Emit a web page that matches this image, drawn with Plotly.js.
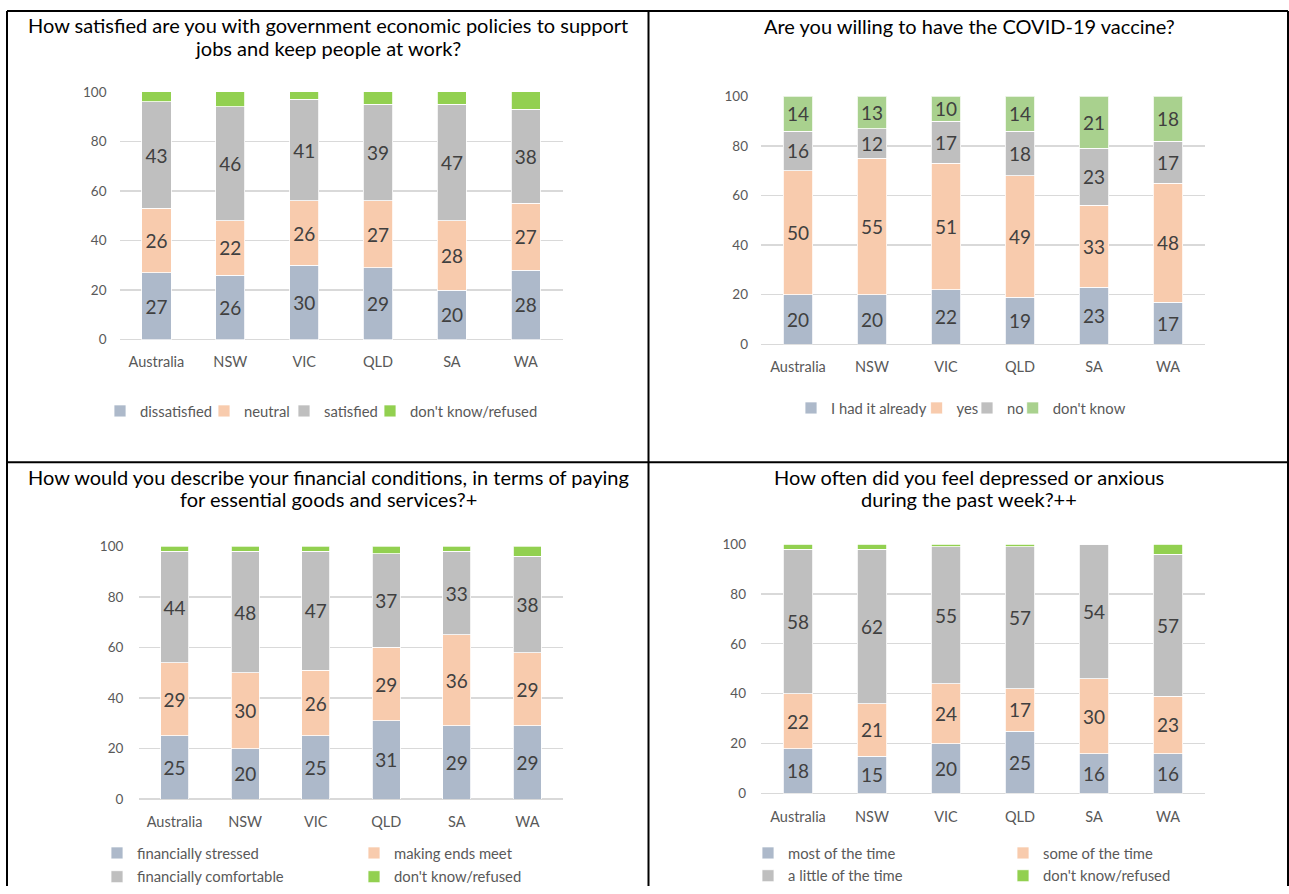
<!DOCTYPE html>
<html>
<head>
<meta charset="utf-8">
<script src="https://cdn.plot.ly/plotly-3.0.1.min.js"></script>
<style>
html,body{margin:0;padding:0;background:#ffffff;}
#chart{width:1289px;height:894px;}
</style>
</head>
<body>
<div id="chart"></div>
<script>
// ---------------- DATA ----------------
const categories = ['Australia', 'NSW', 'VIC', 'QLD', 'SA', 'WA'];

// Panel 1
const p1Title = 'How satisfied are you with government economic policies to support<br>jobs and keep people at work?';
const p1Names = ['dissatisfied', 'neutral', 'satisfied', "don't know/refused"];
const p1Dissatisfied = [27, 26, 30, 29, 20, 28];
const p1Neutral      = [26, 22, 26, 27, 28, 27];
const p1Satisfied    = [43, 46, 41, 39, 47, 38];
const p1DontKnow     = [4, 6, 3, 5, 5, 7];

// Panel 2
const p2Title = 'Are you willing to have the COVID-19 vaccine?';
const p2Names = ['I had it already', 'yes', 'no', "don't know"];
const p2HadIt    = [20, 20, 22, 19, 23, 17];
const p2Yes      = [50, 55, 51, 49, 33, 48];
const p2No       = [16, 12, 17, 18, 23, 17];
const p2DontKnow = [14, 13, 10, 14, 21, 18];

// Panel 3
const p3Title = 'How would you describe your financial conditions, in terms of paying<br>for essential goods and services?+';
const p3Names = ['financially stressed', 'making ends meet', 'financially comfortable', "don't know/refused"];
const p3Stressed    = [25, 20, 25, 31, 29, 29];
const p3EndsMeet    = [29, 30, 26, 29, 36, 29];
const p3Comfortable = [44, 48, 47, 37, 33, 38];
const p3DontKnow    = [2, 2, 2, 3, 2, 4];

// Panel 4
const p4Title = 'How often did you feel depressed or anxious<br>during the past week?++';
const p4Names = ['most of the time', 'some of the time', 'a little of the time', "don't know/refused"];
const p4Most     = [18, 15, 20, 25, 16, 16];
const p4Some     = [22, 21, 24, 17, 30, 23];
const p4Little   = [58, 62, 55, 57, 54, 57];
const p4DontKnow = [2, 2, 1, 1, 0.5, 4];

const yTicks = [0, 20, 40, 60, 80, 100];

// ---------------- STYLE / LAYOUT ----------------
const W = 1289, H = 894;
const FONT = 'Lato, "Open Sans", sans-serif';
const C_BLUE = '#ADB9CA', C_PEACH = '#F8CBAD', C_GREY = '#BFBFBF', C_GREEN = '#92D050', C_LGREEN = '#A9D18E';
const px = v => v / W;
const py = v => 1 - v / H;

const panels = [
  { title: p1Title, names: p1Names, series: [p1Dissatisfied, p1Neutral, p1Satisfied, p1DontKnow],
    colors: [C_BLUE, C_PEACH, C_GREY, C_GREEN], labelled: [true, true, true, false],
    plot: { x0: 119.5, x1: 562.7, top: 92.7, bottom: 342.7 }, ystand: 12, xstand: 12,
    titleX: 328, titleY: [25, 48],
    legendPos: [[140, 415], [244, 415], [324, 415], [410, 415]] },
  { title: p2Title, names: p2Names, series: [p2HadIt, p2Yes, p2No, p2DontKnow],
    colors: [C_BLUE, C_PEACH, C_GREY, C_LGREEN], labelled: [true, true, true, true],
    plot: { x0: 761, x1: 1205, top: 97.3, bottom: 347.3 }, ystand: 12, xstand: 12,
    titleX: 969, titleY: [26.5],
    legendPos: [[831, 412], [956.6, 412], [1007, 412], [1052.7, 412]] },
  { title: p3Title, names: p3Names, series: [p3Stressed, p3EndsMeet, p3Comfortable, p3DontKnow],
    colors: [C_BLUE, C_PEACH, C_GREY, C_GREEN], labelled: [true, true, true, false],
    plot: { x0: 139.3, x1: 562.7, top: 551.3, bottom: 806.3 }, ystand: 15, xstand: 12,
    titleX: 328.5, titleY: [481, 504],
    legendPos: [[137, 861], [394, 861], [137, 885], [394, 885]] },
  { title: p4Title, names: p4Names, series: [p4Most, p4Some, p4Little, p4DontKnow],
    colors: [C_BLUE, C_PEACH, C_GREY, C_GREEN], labelled: [true, true, true, false],
    plot: { x0: 761, x1: 1205, top: 549, bottom: 800.6 }, ystand: 14, xstand: 13,
    titleX: 969, titleY: [481, 504],
    legendPos: [[788, 861], [1043, 861], [788, 884], [1043, 884]] }
];

const traces = [];
const layout = {
  width: W, height: H,
  margin: { l: 0, r: 0, t: 0, b: 0, pad: 0 },
  paper_bgcolor: '#ffffff', plot_bgcolor: 'rgba(0,0,0,0)',
  barmode: 'stack', bargap: 0.605,
  font: { family: FONT, color: '#595959' },
  showlegend: true,
  annotations: [], shapes: []
};

let legendIdx = 0;
panels.forEach((p, i) => {
  const n = i + 1;
  const xa = n === 1 ? 'xaxis' : 'xaxis' + n;
  const ya = n === 1 ? 'yaxis' : 'yaxis' + n;
  const xr = n === 1 ? 'x' : 'x' + n;
  const yr = n === 1 ? 'y' : 'y' + n;

  layout[xa] = {
    domain: [px(p.plot.x0), px(p.plot.x1)], anchor: yr, type: 'category',
    categoryorder: 'array', categoryarray: categories,
    showgrid: false, zeroline: false, showline: false, ticks: '',
    tickfont: { family: FONT, size: 14.5, color: '#595959' },
    ticklabelstandoff: p.xstand, fixedrange: true
  };
  layout[ya] = {
    domain: [py(p.plot.bottom), py(p.plot.top)], anchor: xr,
    range: [0, 100], tickvals: yTicks, ticktext: yTicks.map(String),
    showgrid: true, gridcolor: '#D9D9D9', gridwidth: 1.3,
    zeroline: true, zerolinecolor: '#D9D9D9', zerolinewidth: 1.3,
    showline: false, ticks: '',
    tickfont: { family: FONT, size: 13.5, color: '#595959' },
    ticklabelstandoff: p.ystand, fixedrange: true
  };

  p.series.forEach((vals, k) => {
    legendIdx += 1;
    const lgName = legendIdx === 1 ? 'legend' : 'legend' + legendIdx;
    const [lx, ly] = p.legendPos[k];
    layout[lgName] = {
      x: px(lx - 40), y: py(ly), xanchor: 'left', yanchor: 'middle',
      orientation: 'h', bgcolor: 'rgba(0,0,0,0)', borderwidth: 0,
      font: { family: FONT, size: 14.8, color: '#595959' }
    };
    traces.push({
      type: 'bar', name: p.names[k], x: categories, y: vals,
      xaxis: xr, yaxis: yr, legend: lgName,
      marker: { color: p.colors[k], line: { color: '#ffffff', width: 0.8 } },
      texttemplate: p.labelled[k] ? '%{y}' : '',
      textposition: p.labelled[k] ? 'inside' : 'none',
      insidetextanchor: 'middle', textangle: 0, constraintext: 'none',
      textfont: { family: FONT, size: 19, color: '#404040' },
      hoverinfo: 'skip'
    });
  });

  p.title.split('<br>').forEach((lineText, j) => {
    layout.annotations.push({
      xref: 'paper', yref: 'paper', x: px(p.titleX), y: py(p.titleY[j]),
      xanchor: 'center', yanchor: 'middle', showarrow: false, align: 'center',
      text: lineText, font: { family: FONT, size: 20, color: '#000000' }
    });
  });
});

// panel borders
const line = (x0, y0, x1, y1) => ({
  type: 'line', xref: 'paper', yref: 'paper',
  x0: px(x0), y0: py(y0), x1: px(x1), y1: py(y1),
  line: { color: '#000000', width: 2 }
});
layout.shapes.push(line(7, 11, 1288, 11));
layout.shapes.push(line(7, 11, 7, 894));
layout.shapes.push(line(1288, 11, 1288, 894));
layout.shapes.push(line(648.5, 11, 648.5, 894));
layout.shapes.push(line(7, 466.5, 1288, 466.5));

Plotly.newPlot('chart', traces, layout, { staticPlot: true, displayModeBar: false });
</script>
</body>
</html>
